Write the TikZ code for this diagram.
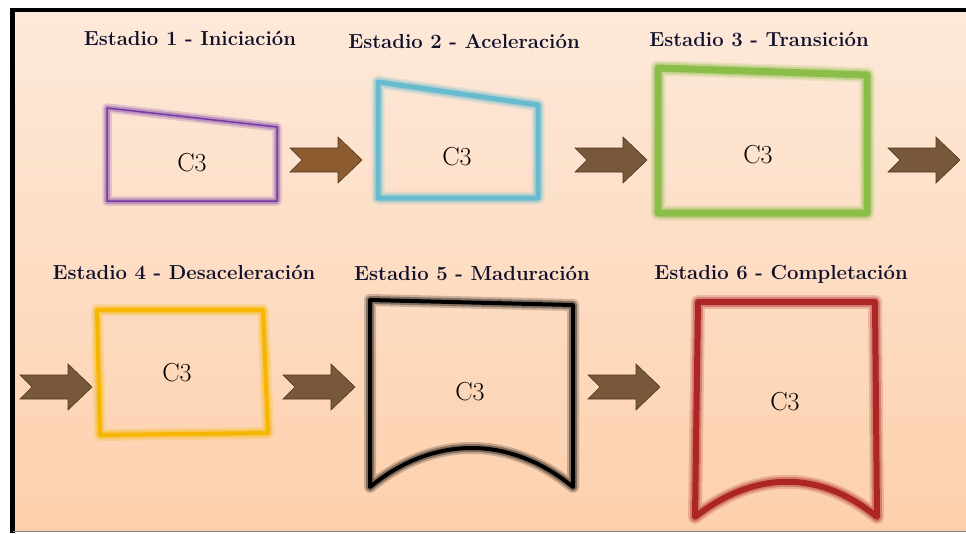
\documentclass[tikz,border=0pt]{standalone}
\usepackage{tikz}
\definecolor{fondoA}{RGB}{253,233,218}
\definecolor{fondoB}{RGB}{253,208,172}
\definecolor{tinta}{RGB}{16,16,42}
\definecolor{cafe}{RGB}{120,88,58}
\definecolor{cafeA}{RGB}{140,92,48}
\definecolor{borde}{RGB}{78,54,30}
\definecolor{morado}{RGB}{118,58,168}
\definecolor{celeste}{RGB}{104,186,206}
\definecolor{verde}{RGB}{138,190,72}
\definecolor{amarillo}{RGB}{246,182,0}
\definecolor{rojo}{RGB}{172,38,38}
\newcommand{\marco}[3]{%
\draw[#1,line width=#2+8pt,opacity=.2,line join=round,line cap=round]#3;
\draw[#1,line width=#2+4pt,opacity=.35,line join=round,line cap=round]#3;
\draw[#1,line width=#2,line join=round,line cap=round]#3;}
\newcommand{\flecha}[2]{\filldraw[flecha,#1,shift={(#2)}] (-36,-12) -- (12,-12) -- (12,-23) -- (36,0) -- (12,23) -- (12,12) -- (-36,12) -- (-24,0) -- cycle;}

\begin{document}
\begin{tikzpicture}[x=1pt,y=-1pt]
\tikzstyle{every node}=[font=\fontsize{26}{28}\selectfont,inner sep=0pt]
\tikzstyle{titulo}=[font=\fontsize{20.3}{24}\selectfont\bfseries,text=tinta,anchor=base]
\tikzstyle{flecha}=[fill=cafe,draw=borde,line width=0.6pt]
\useasboundingbox (0,0) rectangle (966,533);
\fill[white] (0,0) rectangle (966,533);
\shade[top color=fondoA,bottom color=fondoB] (13,10) rectangle (966,531);
\draw[line width=5pt] (12.5,8) -- (12.5,533);
\draw[line width=4pt] (10,10) -- (966,10);
\draw[gray,line width=1pt] (13,531.5) -- (966,531.5);

\node[titulo] (t1) at (190,45) {Estadio 1 - Iniciación};
\node[titulo] (t2) at (464,48) {Estadio 2 - Aceleración};
\node[titulo] (t3) at (759,46) {Estadio 3 - Transición};
\node[titulo] (t4) at (184,279) {Estadio 4 - Desaceleración};
\node[titulo] (t5) at (472,280) {Estadio 5 - Maduración};
\node[titulo] (t6) at (781,279) {Estadio 6 - Completación};

\marco{morado}{1.5pt}{(107,108) -- (277,127) -- (277,201) -- (107,201) -- cycle}
\marco{celeste}{5pt}{(378,82) -- (538,105) -- (538,198) -- (378,198) -- cycle}
\marco{verde}{7pt}{(658,68) -- (867,75) -- (867,213) -- (658,213) -- cycle}
\marco{amarillo}{4pt}{(97,310) -- (263,310) -- (268,433) -- (100,435) -- cycle}
\marco{black}{4pt}{(370,300) -- (573,305) -- (573,487) .. controls (510,435) and (433,435) .. (370,487) -- cycle}
\marco{rojo}{6pt}{(698,302) -- (875,302) -- (877,517) .. controls (820,470) and (755,470) .. (695,517) -- cycle}

\node (c1) at (192,163) {C3};
\node (c2) at (457,157) {C3};
\node (c3) at (758,155) {C3};
\node (c4) at (177,373) {C3};
\node (c5) at (470,392) {C3};
\node (c6) at (785,402) {C3};

\coordinate (a1) at (326,160);
\coordinate (a2) at (611,160);
\coordinate (a3) at (924,160);
\coordinate (a4) at (56,387);
\coordinate (a5) at (319,387);
\coordinate (a6) at (624,387);
\flecha{fill=cafeA}{a1}
\flecha{}{a2}
\flecha{}{a3}
\flecha{}{a4}
\flecha{}{a5}
\flecha{}{a6}

\end{tikzpicture}
\end{document}
